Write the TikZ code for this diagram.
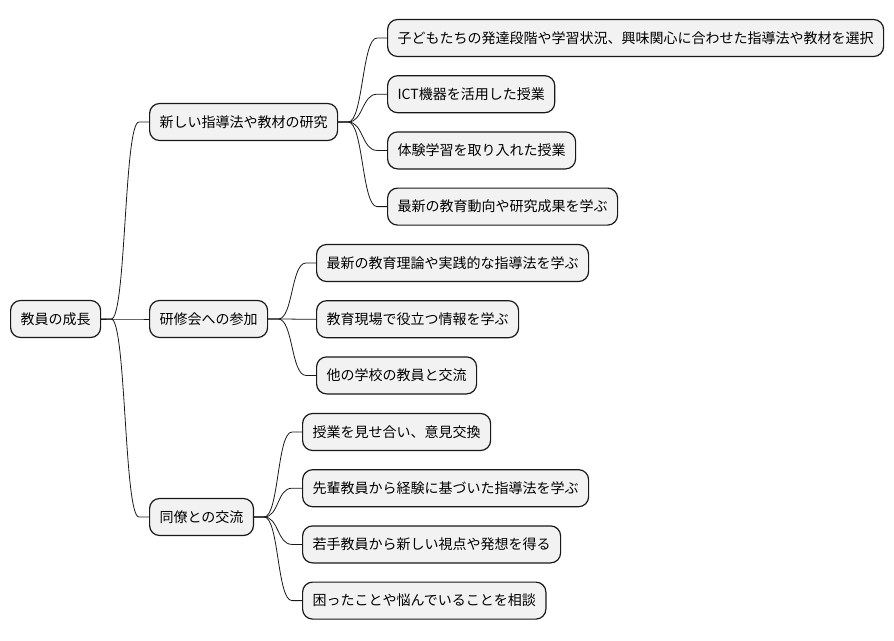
\documentclass[tikz,border=0pt]{standalone}
\usepackage{fontspec}
\setmainfont{Noto Sans CJK JP}
\usetikzlibrary{positioning,calc}

\begin{document}
\begin{tikzpicture}[
    x=1pt, y=-1pt,
    node distance=18pt and 0pt,
    topic/.style={rectangle, draw=black!90, fill=black!5, line width=1.2pt, rounded corners=10pt, minimum height=37pt, inner xsep=10pt, anchor=west, font=\fontsize{14}{16}\selectfont},
    branch/.style={draw=black!90, line width=0.8pt}
]
    \useasboundingbox (0,0) rectangle (894,640);

    \node[topic] (root) at (10,319) {教員の成長};

    \node[topic] (research) at (149,122) {新しい指導法や教材の研究};
    \node[topic] (seminar) at (149,319) {研修会への参加};
    \node[topic] (colleague) at (149,517) {同僚との交流};

    \node[topic] (r1) at (387,38) {子どもたちの発達段階や学習状況、興味関心に合わせた指導法や教材を選択};
    \node[topic, below right=of r1.south west, anchor=north west] (r2) {ICT機器を活用した授業};
    \node[topic, below right=of r2.south west, anchor=north west] (r3) {体験学習を取り入れた授業};
    \node[topic, below right=of r3.south west, anchor=north west] (r4) {最新の教育動向や研究成果を学ぶ};

    \node[topic] (s1) at (316,263) {最新の教育理論や実践的な指導法を学ぶ};
    \node[topic, below right=of s1.south west, anchor=north west] (s2) {教育現場で役立つ情報を学ぶ};
    \node[topic, below right=of s2.south west, anchor=north west] (s3) {他の学校の教員と交流};

    \node[topic] (c1) at (302,432) {授業を見せ合い、意見交換};
    \node[topic, below right=of c1.south west, anchor=north west] (c2) {先輩教員から経験に基づいた指導法を学ぶ};
    \node[topic, below right=of c2.south west, anchor=north west] (c3) {若手教員から新しい視点や発想を得る};
    \node[topic, below right=of c3.south west, anchor=north west] (c4) {困ったことや悩んでいることを相談};

    % branches
    \foreach \p/\c in {root/research, root/seminar, root/colleague,
                       research/r1, research/r2, research/r3, research/r4,
                       seminar/s1, seminar/s2, seminar/s3,
                       colleague/c1, colleague/c2, colleague/c3, colleague/c4}
        \draw[branch] (\p.east) -- ++(10,0) .. controls +(15,0) and +(-15,0) .. ($(\c.west)+(-10,0)$) -- (\c.west);
\end{tikzpicture}
\end{document}
